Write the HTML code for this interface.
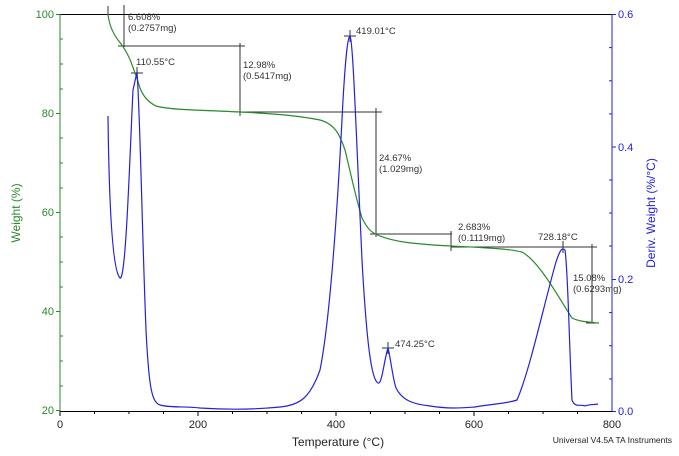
<!DOCTYPE html>
<html><head><style>
body{margin:0;background:#fff;}
svg{display:block;font-family:"Liberation Sans",sans-serif;}
</style></head><body>
<svg width="679" height="456" viewBox="0 0 679 456">
<rect width="679" height="456" fill="#fff"/>
<line x1="60" y1="14.5" x2="612" y2="14.5" stroke="#000" stroke-width="1"/>
<line x1="60" y1="14" x2="60" y2="412" stroke="#2a8a2a" stroke-width="1"/>
<line x1="612" y1="14" x2="612" y2="412" stroke="#2222dd" stroke-width="1"/>
<line x1="60" y1="411.5" x2="612" y2="411.5" stroke="#000" stroke-width="1"/>
<g stroke="#2a8a2a">
<line x1="56" y1="14.5" x2="60" y2="14.5"/><line x1="56" y1="113.5" x2="60" y2="113.5"/>
<line x1="56" y1="212.5" x2="60" y2="212.5"/><line x1="56" y1="311.5" x2="60" y2="311.5"/>
<line x1="56" y1="410.5" x2="60" y2="410.5"/>
<line x1="60" y1="39" x2="63" y2="39"/><line x1="60" y1="64" x2="63" y2="64"/><line x1="60" y1="89" x2="63" y2="89"/>
<line x1="60" y1="138" x2="63" y2="138"/><line x1="60" y1="163" x2="63" y2="163"/><line x1="60" y1="188" x2="63" y2="188"/>
<line x1="60" y1="237" x2="63" y2="237"/><line x1="60" y1="262" x2="63" y2="262"/><line x1="60" y1="287" x2="63" y2="287"/>
<line x1="60" y1="336" x2="63" y2="336"/><line x1="60" y1="361" x2="63" y2="361"/><line x1="60" y1="386" x2="63" y2="386"/>
</g>
<g fill="#2a8a2a" font-size="11" text-anchor="end">
<text x="54" y="18">100</text><text x="54" y="117">80</text><text x="54" y="216">60</text><text x="54" y="315">40</text><text x="54" y="414">20</text>
</g>
<text transform="translate(20,213) rotate(-90)" fill="#2a8a2a" font-size="12" text-anchor="middle">Weight (%)</text>
<g stroke="#2222dd">
<line x1="612" y1="14.5" x2="616" y2="14.5"/><line x1="612" y1="147" x2="616" y2="147"/><line x1="612" y1="279.5" x2="616" y2="279.5"/><line x1="612" y1="411.5" x2="616" y2="411.5"/>
<line x1="609" y1="47.6" x2="612" y2="47.6"/><line x1="609" y1="80.8" x2="612" y2="80.8"/><line x1="609" y1="113.9" x2="612" y2="113.9"/>
<line x1="609" y1="180" x2="612" y2="180"/><line x1="609" y1="213" x2="612" y2="213"/><line x1="609" y1="246" x2="612" y2="246"/>
<line x1="609" y1="312.6" x2="612" y2="312.6"/><line x1="609" y1="345.7" x2="612" y2="345.7"/><line x1="609" y1="378.9" x2="612" y2="378.9"/>
</g>
<g fill="#2222dd" font-size="11">
<text x="618" y="18">0.6</text><text x="618" y="151">0.4</text><text x="618" y="283">0.2</text><text x="618" y="415">0.0</text>
</g>
<text transform="translate(655,213) rotate(-90)" fill="#2222dd" font-size="12" text-anchor="middle">Deriv. Weight (%/°C)</text>
<g stroke="#000">
<line x1="60" y1="411" x2="60" y2="416"/><line x1="129" y1="411" x2="129" y2="414"/><line x1="198" y1="411" x2="198" y2="416"/>
<line x1="267" y1="411" x2="267" y2="414"/><line x1="336" y1="411" x2="336" y2="416"/><line x1="405" y1="411" x2="405" y2="414"/>
<line x1="474" y1="411" x2="474" y2="416"/><line x1="543" y1="411" x2="543" y2="414"/>
<line x1="94.5" y1="411" x2="94.5" y2="414"/><line x1="163.5" y1="411" x2="163.5" y2="414"/><line x1="232.5" y1="411" x2="232.5" y2="414"/>
<line x1="301.5" y1="411" x2="301.5" y2="414"/><line x1="370.5" y1="411" x2="370.5" y2="414"/><line x1="439.5" y1="411" x2="439.5" y2="414"/>
<line x1="508.5" y1="411" x2="508.5" y2="414"/><line x1="577.5" y1="411" x2="577.5" y2="414"/>
</g>
<g fill="#222" font-size="11" text-anchor="middle">
<text x="60" y="428">0</text><text x="198" y="428">200</text><text x="336" y="428">400</text><text x="474" y="428">600</text><text x="612" y="428">800</text>
</g>
<text x="338" y="446" font-size="12" fill="#222" text-anchor="middle">Temperature (°C)</text>
<text x="672" y="443" font-size="8.5" fill="#222" text-anchor="end">Universal V4.5A TA Instruments</text>
<g stroke="#333" stroke-width="1" fill="none">
<line x1="124" y1="5" x2="124" y2="47"/>
<line x1="108" y1="14" x2="108" y2="6"/>
<line x1="118" y1="46" x2="245" y2="46"/>
<line x1="240" y1="43" x2="240" y2="116"/>
<line x1="235" y1="112" x2="382" y2="112"/>
<line x1="376" y1="108" x2="376" y2="237"/>
<line x1="370" y1="234" x2="452" y2="234"/>
<line x1="451" y1="231" x2="451" y2="251"/>
<line x1="451" y1="247" x2="597" y2="247"/>
<line x1="592" y1="244" x2="592" y2="323"/>
<line x1="586" y1="323" x2="599" y2="323"/>
<line x1="131" y1="73" x2="143" y2="73"/><line x1="137" y1="67" x2="137" y2="79"/>
<line x1="344" y1="36" x2="356" y2="36"/><line x1="350" y1="30" x2="350" y2="42"/>
<line x1="382" y1="348" x2="394" y2="348"/><line x1="388" y1="342" x2="388" y2="354"/>
<line x1="557" y1="247" x2="569" y2="247"/><line x1="563" y1="241" x2="563" y2="253"/>
</g>
<path d="M108,14 C109,24 112,32 118,40 C123,46 127,52 131,62 C134,70 137,78 140,88 C143,96 148,102 156,106 C170,110 200,110 240,112 C280,114 300,116 320,120 C335,124 340,135 345,150 C350,170 355,195 362,218 C368,230 372,233 380,236 C392,241 410,244 451,246 C490,248 510,249 522,252 C540,262 560,300 572,318 C580,322 590,322 598,323" stroke="#2a8a2a" stroke-width="1.2" fill="none"/>
<path d="M108,116 C109,200 112,270 120,278 C126,282 130,150 133,90 L137,72 C140,110 142,230 146,330 C149,390 152,402 160,405 C170,408 185,406 200,408 C230,410 260,409 280,407 C300,405 310,398 320,370 C330,320 338,200 343,100 C346,50 348,37 350,36 C353,40 356,130 362,260 C367,350 372,380 378,383 C382,385 384,360 388,348 C391,360 393,380 396,388 C402,400 412,404 430,406 C450,409 460,408 475,407 C490,404 505,404 517,400 C530,370 545,300 556,262 C560,250 562,247 565,250 C568,270 569,340 572,400 C575,408 580,404 585,406 C590,404 594,405 598,404" stroke="#2222dd" stroke-width="1.2" fill="none"/>
<g fill="#333" font-size="9.5">
<text x="128" y="20">6.608%</text><text x="128" y="31">(0.2757mg)</text>
<text x="136" y="65">110.55°C</text>
<text x="243" y="68">12.98%</text><text x="243" y="79">(0.5417mg)</text>
<text x="356" y="34">419.01°C</text>
<text x="379" y="161">24.67%</text><text x="379" y="172">(1.029mg)</text>
<text x="458" y="230">2.683%</text><text x="458" y="241">(0.1119mg)</text>
<text x="538" y="240">728.18°C</text>
<text x="573" y="281">15.08%</text><text x="573" y="292">(0.6293mg)</text>
<text x="395" y="347">474.25°C</text>
</g>
</svg>
</body></html>
